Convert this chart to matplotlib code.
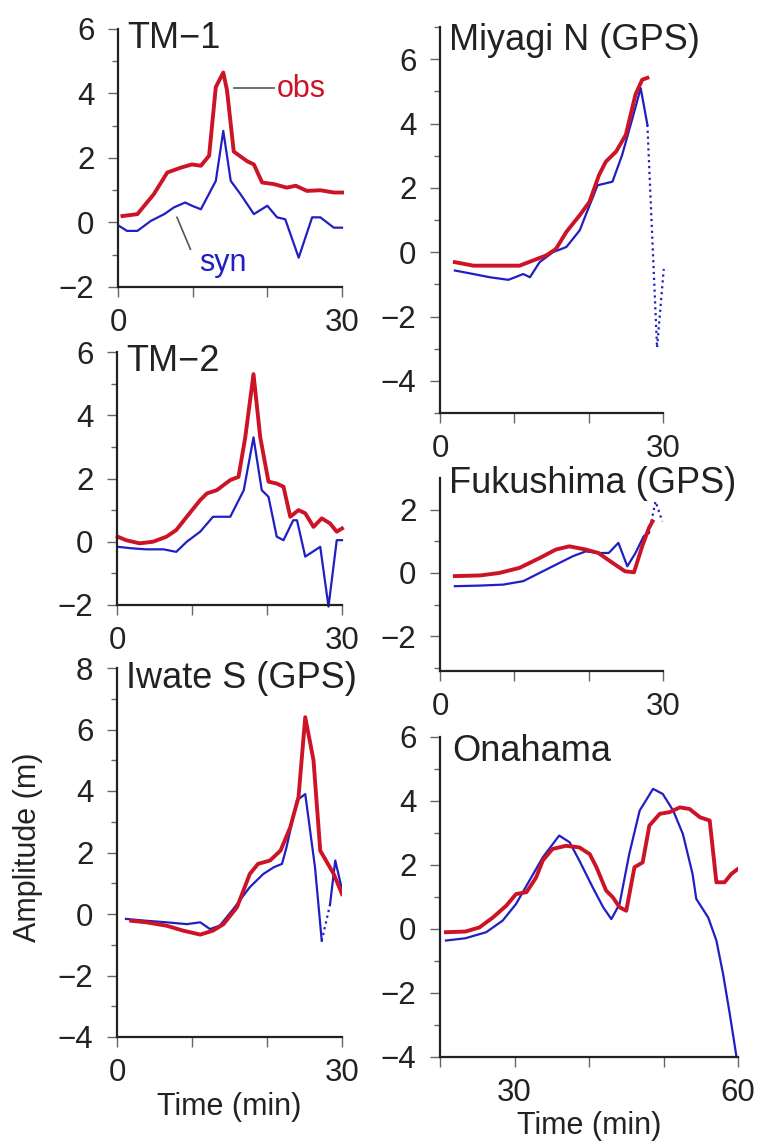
import matplotlib
matplotlib.use("Agg")
import matplotlib.pyplot as plt

plt.rcParams['font.family'] = ['Liberation Sans', 'DejaVu Sans']

RED = '#cc1426'
BLUE = '#1f1fc4'
INK = '#222222'

# ---- data ----
tm1_t_obs = [0.6, 2.6, 4.8, 6.6, 8.4, 9.9, 11.1, 12.2, 13.1, 14.1, 14.6, 15.5, 17.3, 18.2, 19.3, 20.9, 22.6, 23.8, 25.3, 27.1, 28.9, 30.0]
tm1_obs = [0.2, 0.26, 0.88, 1.55, 1.7, 1.8, 1.76, 2.07, 4.2, 4.65, 4.1, 2.2, 1.9, 1.8, 1.24, 1.19, 1.08, 1.14, 0.98, 1.0, 0.93, 0.93]
tm1_t_syn = [0.1, 1.2, 2.6, 4.4, 6.2, 7.5, 9.0, 9.9, 11.1, 13.1, 14.1, 15.1, 16.4, 18.2, 20.0, 21.3, 22.4, 24.2, 26.0, 27.1, 28.9, 30.0]
tm1_syn = [-0.1, -0.26, -0.26, 0.05, 0.26, 0.47, 0.62, 0.52, 0.41, 1.29, 2.84, 1.29, 0.88, 0.26, 0.52, 0.16, 0.1, -1.09, 0.16, 0.16, -0.16, -0.16]

tm2_t_obs = [0.1, 1.2, 3.0, 4.8, 6.6, 7.9, 9.3, 11.1, 12.0, 13.3, 15.1, 16.2, 17.1, 18.2, 19.1, 20.2, 21.3, 22.2, 23.1, 24.2, 25.1, 26.2, 27.3, 28.4, 29.3, 30.0]
tm2_obs = [0.16, 0.05, -0.05, 0.0, 0.16, 0.37, 0.79, 1.32, 1.53, 1.63, 1.95, 2.05, 3.3, 5.3, 3.3, 1.9, 1.84, 1.74, 0.79, 1.0, 0.9, 0.47, 0.74, 0.58, 0.32, 0.42]
tm2_t_syn = [0.1, 2.1, 3.9, 6.2, 7.9, 9.3, 11.1, 12.8, 15.1, 16.9, 18.2, 19.3, 20.2, 21.3, 22.2, 23.5, 24.0, 25.1, 27.1, 28.2, 29.3, 30.0]
tm2_syn = [-0.16, -0.21, -0.24, -0.24, -0.32, 0.0, 0.32, 0.79, 0.79, 1.63, 3.3, 1.63, 1.42, 0.16, 0.05, 0.68, 0.68, -0.47, -0.16, -2.05, 0.05, 0.05]

iw_t_obs = [1.9, 3.9, 6.6, 8.8, 11.1, 12.8, 14.2, 16.0, 17.7, 18.8, 20.4, 21.8, 23.1, 24.2, 25.1, 26.2, 27.1, 28.9, 30.0]
iw_obs = [-0.22, -0.27, -0.38, -0.54, -0.67, -0.54, -0.33, 0.22, 1.3, 1.63, 1.74, 2.06, 2.82, 3.8, 6.4, 5.0, 2.06, 1.3, 0.65]
iw_t_syn = [1.2, 3.9, 6.6, 9.3, 11.1, 12.4, 13.7, 15.5, 17.7, 19.5, 20.9, 22.0, 22.6, 24.0, 25.1, 26.4, 27.3]
iw_syn = [-0.16, -0.22, -0.27, -0.33, -0.27, -0.49, -0.38, 0.16, 0.87, 1.3, 1.52, 1.63, 2.17, 3.7, 3.9, 1.52, -0.87]
iw_t_syn_x = [27.3, 28.4]
iw_syn_x = [-0.87, 0.3]
iw_t_syn_end = [28.4, 29.1, 30.0]
iw_syn_end = [0.3, 1.74, 0.8]

my_t_obs = [2.0, 4.5, 6.7, 8.9, 10.7, 12.5, 14.3, 15.6, 17.0, 18.8, 20.1, 21.4, 22.3, 23.7, 25.0, 26.3, 27.2, 27.9]
my_obs = [-0.31, -0.42, -0.42, -0.42, -0.42, -0.26, -0.1, 0.1, 0.63, 1.15, 1.56, 2.4, 2.81, 3.13, 3.65, 4.9, 5.36, 5.42]
my_t_syn = [2.0, 4.5, 6.7, 9.2, 11.2, 12.1, 13.4, 15.2, 17.0, 18.8, 19.6, 21.2, 23.2, 24.5, 25.9, 27.0, 27.9]
my_syn = [-0.57, -0.68, -0.78, -0.86, -0.68, -0.78, -0.31, 0.0, 0.16, 0.68, 1.15, 2.08, 2.19, 3.02, 4.17, 5.1, 3.96]
my_t_syn_x = [27.9, 29.2, 30.1]
my_syn_x = [3.96, -2.97, -0.52]

fk_t_obs = [2.0, 5.4, 8.0, 10.7, 13.4, 15.6, 17.4, 19.6, 21.3, 23.2, 24.9, 26.1, 27.2, 28.1, 28.6]
fk_obs = [-0.1, -0.08, 0.0, 0.16, 0.47, 0.74, 0.84, 0.74, 0.63, 0.32, 0.05, 0.02, 0.84, 1.42, 1.63]
fk_t_syn = [2.0, 5.4, 8.5, 11.2, 13.4, 16.1, 17.9, 19.6, 21.3, 22.7, 24.0, 25.2, 26.3, 27.4, 28.1]
fk_syn = [-0.42, -0.4, -0.37, -0.26, 0.0, 0.32, 0.53, 0.68, 0.63, 0.63, 0.95, 0.21, 0.63, 1.16, 1.26]
fk_t_syn_x = [28.1, 29.0, 29.9]
fk_syn_x = [1.26, 2.26, 1.63]

on_t_obs = [20.8, 23.4, 25.3, 27.1, 28.9, 30.2, 31.6, 32.9, 33.8, 35.1, 36.9, 38.7, 40.1, 41.0, 42.3, 43.2, 44.1, 45.0, 46.1, 47.2, 48.1, 49.5, 50.8, 52.2, 53.5, 54.9, 56.2, 57.1, 58.2, 59.1, 60.0]
on_obs = [-0.1, -0.08, 0.05, 0.36, 0.73, 1.09, 1.15, 1.61, 2.14, 2.5, 2.6, 2.55, 2.34, 1.93, 1.2, 0.99, 0.68, 0.57, 1.93, 2.08, 3.23, 3.6, 3.65, 3.8, 3.75, 3.49, 3.39, 1.46, 1.46, 1.72, 1.88]
on_t_syn = [20.8, 23.4, 26.2, 28.4, 30.2, 32.0, 33.8, 36.0, 37.4, 38.7, 40.5, 41.9, 43.0, 44.1, 45.4, 46.8, 48.6, 49.9, 51.3, 52.6, 53.9, 54.4, 56.0, 57.1, 58.0, 58.9, 59.8]
on_syn = [-0.36, -0.29, -0.1, 0.26, 0.78, 1.51, 2.24, 2.92, 2.71, 2.14, 1.3, 0.68, 0.31, 0.78, 2.34, 3.7, 4.38, 4.22, 3.7, 2.97, 1.72, 0.94, 0.36, -0.36, -1.41, -2.66, -4.0]

W, H = 765, 1146
fig = plt.figure(figsize=(W / 100, H / 100), dpi=100)


def place(l, t, r, b):
    ax = fig.add_axes([l / W, 1 - b / H, (r - l) / W, (b - t) / H])
    for s in ['top', 'right']:
        ax.spines[s].set_visible(False)
    for s in ['left', 'bottom']:
        ax.spines[s].set_linewidth(1.6)
        ax.spines[s].set_color(INK)
    ax.tick_params(which='both', direction='out', color='#666666', width=1.0,
                   labelsize=22.5, labelcolor=INK)
    ax.tick_params(which='major', length=7)
    ax.tick_params(axis='y', which='major', pad=10)
    ax.tick_params(axis='x', which='major', pad=8)
    ax.tick_params(which='minor', length=4)
    ax.patch.set_alpha(0)
    return ax


def style(ax, xlim, ylim, xt, xl, yt, ymin, title, ty=1.0):
    ax.set_xlim(*xlim)
    ax.set_ylim(*ylim)
    ax.set_xticks(xt, xl)
    ax.set_yticks(yt, [str(v).replace('-', '\u2212') for v in yt])
    ax.set_yticks(ymin, minor=True)
    ax.text(0.04, ty, title, transform=ax.transAxes, ha='left', va='top',
            fontsize=26, color=INK)


ax1 = place(118, 29, 342, 287)
ax1.plot(tm1_t_obs, tm1_obs, color=RED, lw=2.8, clip_on=False)
ax1.plot(tm1_t_syn, tm1_syn, color=BLUE, lw=1.6, clip_on=False)
ax1.plot([15.6, 20.9], [4.17, 4.17], color='#555555', lw=1.2)
ax1.text(21.3, 4.15, 'obs', color=RED, fontsize=22, va='center')
ax1.plot([7.9, 9.7], [0.16, -0.83], color='#555555', lw=1.2)
ax1.text(10.9, -1.27, 'syn', color=BLUE, fontsize=22, va='center')
style(ax1, (0, 30), (-2, 6), [0, 10, 20, 30], ['0', '', '', '30'],
      [-2, 0, 2, 4, 6], [-1, 1, 3, 5], 'TM\u22121', 1.03)

ax2 = place(117, 352, 342, 605)
ax2.plot(tm2_t_obs, tm2_obs, color=RED, lw=2.8, clip_on=False)
ax2.plot(tm2_t_syn, tm2_syn, color=BLUE, lw=1.6, clip_on=False)
style(ax2, (0, 30), (-2, 6), [0, 10, 20, 30], ['0', '', '', '30'],
      [-2, 0, 2, 4, 6], [-1, 1, 3, 5], 'TM\u22122', 1.03)

ax3 = place(117, 668, 342, 1037)
ax3.plot(iw_t_syn, iw_syn, color=BLUE, lw=1.6)
ax3.plot(iw_t_syn_x, iw_syn_x, color=BLUE, lw=1.6, ls=':')
ax3.plot(iw_t_syn_end, iw_syn_end, color=BLUE, lw=1.6)
ax3.plot(iw_t_obs, iw_obs, color=RED, lw=2.8)
style(ax3, (0, 30), (-4, 8), [0, 10, 20, 30], ['0', '', '', '30'],
      [-4, -2, 0, 2, 4, 6, 8], [-3, -1, 1, 3, 5, 7], 'Iwate S (GPS)', 1.02)
ax3.set_xlabel('Time (min)', fontsize=22, color=INK, labelpad=3)

ax4 = place(440, 27, 663, 413)
ax4.plot(my_t_syn, my_syn, color=BLUE, lw=1.6)
ax4.plot(my_t_syn_x, my_syn_x, color=BLUE, lw=1.6, ls=':', clip_on=False)
ax4.plot(my_t_obs, my_obs, color=RED, lw=2.8)
style(ax4, (0, 30), (-5, 7), [0, 10, 20, 30], ['0', '', '', '30'],
      [-4, -2, 0, 2, 4, 6], [-5, -3, -1, 1, 3, 5, 7], 'Miyagi N (GPS)', 1.01)

ax5 = place(440, 478, 663, 671)
ax5.plot(fk_t_syn, fk_syn, color=BLUE, lw=1.6)
ax5.plot(fk_t_syn_x, fk_syn_x, color=BLUE, lw=1.6, ls=':', clip_on=False)
ax5.plot(fk_t_obs, fk_obs, color=RED, lw=2.8)
style(ax5, (0, 30), (-3.1, 3.0), [0, 10, 20, 30], ['0', '', '', '30'],
      [-2, 0, 2], [-3, -1, 1], 'Fukushima (GPS)', 1.06)

ax6 = place(440, 737, 738, 1057)
ax6.plot(on_t_syn, on_syn, color=BLUE, lw=1.6, clip_on=False)
ax6.plot(on_t_obs, on_obs, color=RED, lw=2.8)
style(ax6, (20, 60), (-4, 6), [20, 30, 40, 50, 60], ['', '30', '', '', '60'],
      [-4, -2, 0, 2, 4, 6], [-3, -1, 1, 3, 5], 'Onahama', 1.01)
ax6.set_xlabel('Time (min)', fontsize=22, color=INK, labelpad=2)

fig.text(28 / W, 1 - 847 / H, 'Amplitude (m)', rotation=90, ha='center',
         va='center', fontsize=22, color=INK)

fig.savefig('out.png', dpi=100)
